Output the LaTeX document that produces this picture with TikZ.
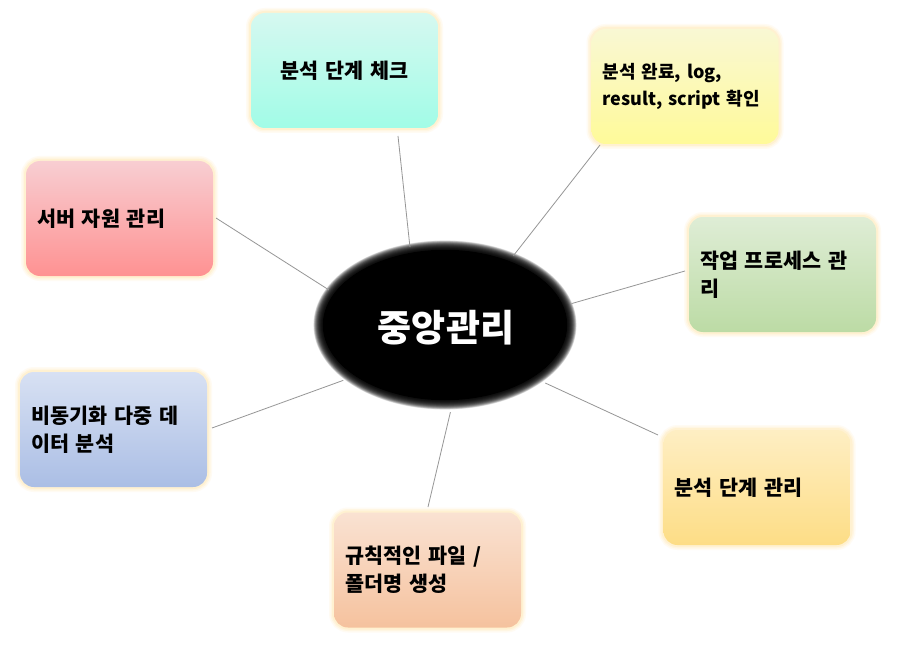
\documentclass[tikz,border=0pt]{standalone}
\usepackage{fontspec}
\setmainfont{Noto Sans CJK KR}
\usetikzlibrary{shapes.geometric}
\definecolor{glowc}{RGB}{255,222,140}
\definecolor{linec}{RGB}{150,150,150}
\definecolor{c1t}{RGB}{240,247,245}\definecolor{c1b}{RGB}{158,252,230}
\definecolor{c2t}{RGB}{246,247,240}\definecolor{c2b}{RGB}{255,250,150}
\definecolor{c3t}{RGB}{244,236,242}\definecolor{c3b}{RGB}{255,142,142}
\definecolor{c4t}{RGB}{240,246,238}\definecolor{c4b}{RGB}{186,218,162}
\definecolor{c5t}{RGB}{238,242,250}\definecolor{c5b}{RGB}{168,188,228}
\definecolor{c6t}{RGB}{255,247,226}\definecolor{c6b}{RGB}{253,220,130}
\definecolor{c7t}{RGB}{252,242,236}\definecolor{c7b}{RGB}{245,192,155}
\colorlet{tcol}{white}\colorlet{bcol}{white}
\pgfdeclareverticalshading[tcol,bcol]{boxshade}{100bp}{color(0bp)=(bcol); color(22bp)=(bcol); color(100bp)=(tcol)}
\tikzset{
  mbox/.style n args={2}{/utils/exec={\colorlet{tcol}{#1}\colorlet{bcol}{#2}},
    shading=boxshade, rounded corners=14pt,
    minimum width=187pt, minimum height=115pt, inner xsep=11pt, inner ysep=0pt,
    text width=165pt, align=left,
    font=\fontsize{20.7}{28}\selectfont\bfseries,
    preaction={draw=glowc, line width=10pt, draw opacity=0.10},
    preaction={draw=glowc, line width=7pt, draw opacity=0.15},
    preaction={draw=glowc, line width=4pt, draw opacity=0.2}},
  conn/.style={draw=linec, line width=0.8pt},
  hub/.style={ellipse, minimum width=262pt, minimum height=168pt, inner sep=0pt,
    text=white, font=\fontsize{37}{42}\selectfont\bfseries}
}
\begin{document}
\begin{tikzpicture}[x=1pt,y=-1pt]
\useasboundingbox[fill=white] (0,0) rectangle (900,650);
% boxes
\node[mbox={c1t}{c1b}, align=center] (b1) at (344.5,70.5) {분석 단계 체크};
\node[mbox={c2t}{c2b}, font=\fontsize{18}{27}\selectfont\bfseries] (b2) at (685,86.5) {분석 완료, log,\\result, script 확인};
\node[mbox={c3t}{c3b}] (b3) at (119.5,218.5) {서버 자원 관리};
\node[mbox={c4t}{c4b}] (b4) at (782.5,274.5) {작업 프로세스 관\\리};
\node[mbox={c5t}{c5b}] (b5) at (113.5,429.5) {비동기화 다중 데\\이터 분석};
\node[mbox={c6t}{c6b}] (b6) at (757,487.5) {분석 단계 관리};
\node[mbox={c7t}{c7b}] (b7) at (427.5,570) {규칙적인 파일 /\\폴더명 생성};
% blurred hub
\fill[black] (445,325) ellipse [x radius=122, y radius=75];
\foreach \i in {0,...,29}{
  \fill[black, opacity=0.09] (445,325) ellipse [x radius={122+\i*0.33}, y radius={75+\i*0.33}];
}
\node[hub] (c) at (446,328) {중앙관리};
% connector ends near boxes
\coordinate (e1) at (398,136);
\coordinate (e2) at (600,145);
\coordinate (e3) at (216,218);
\coordinate (e4) at (685,271);
\coordinate (e5) at (212,428);
\coordinate (e6) at (658,435);
\coordinate (e7) at (428,507);
\draw[conn] (e1) -- (c.114.3);
\draw[conn] (e2) -- (c.47.2);
\draw[conn] (e3) -- (c.162.5);
\draw[conn] (e4) -- (c.11.7);
\draw[conn] (e5) -- (c.207.5);
\draw[conn] (e6) -- (c.331.6);
\draw[conn] (e7) -- (c.273.4);
\end{tikzpicture}
\end{document}
